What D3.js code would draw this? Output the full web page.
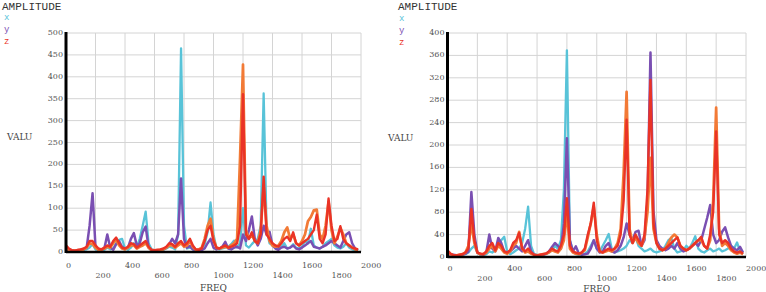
<!DOCTYPE html>
<html>
<head>
<meta charset="utf-8">
<script src="https://cdn.jsdelivr.net/npm/d3@7"></script>
<style>
  html, body { margin: 0; padding: 0; background: #fff; }
  svg { display: block; }
</style>
</head>
<body>
<svg id="chart" width="766" height="292"></svg>
<script>
// Frequency samples (Hz), step 20
const freq = d3.range(0, 2000, 20);

// Tick labels
const xTicks = [0, 200, 400, 600, 800, 1000, 1200, 1400, 1600, 1800, 2000];
const yTicksLeft = [0, 50, 100, 150, 200, 250, 300, 350, 400, 450, 500];
const yTicksRight = [0, 40, 80, 120, 160, 200, 240, 280, 320, 360, 400];

const legendNames = ["x", "y", "z"];

// Left chart series
const leftX = [2,4,3,2,3,4,5,6,10,18, 6,4,3,5,10,6,8,20,28,30, 8,5,10,20,12,30,60,92,20,6, 4,3,4,5,8,12,10,6,40,465, 60,8,10,6,5,4,6,18,45,113, 40,8,6,8,10,12,18,26,10,20, 100,15,10,18,25,30,60,362,50,20, 15,10,8,12,20,8,10,18,10,8, 12,25,20,53,15,10,8,12,20,25, 30,15,10,8,12,20,10,6,4,3];
const leftY = [3,6,4,3,3,5,6,10,60,134, 12,5,4,8,40,10,5,18,25,12, 8,10,30,43,15,20,45,58,10,4, 3,3,4,6,10,18,30,20,40,168, 30,10,14,6,4,5,4,8,20,30, 10,6,8,12,23,8,6,10,12,8, 40,25,50,81,30,15,30,60,40,46, 15,8,5,10,12,8,10,15,8,6, 10,15,20,25,12,10,8,12,15,20, 25,20,15,10,25,40,45,20,8,4];
const leftZ = [15,8,4,3,5,6,8,12,25,25, 15,8,6,10,15,12,25,33,20,10, 8,12,20,18,10,15,20,25,12,5, 4,5,6,8,12,20,18,12,20,25, 15,20,30,15,6,5,8,25,50,60, 25,10,8,12,15,10,12,15,20,60, 360,40,30,45,25,20,40,172,40,30, 20,15,12,20,30,35,25,45,20,15, 20,25,30,40,50,85,30,20,40,122, 60,25,30,59,30,20,15,10,8,6];
const leftW = [8,5,3,3,4,5,6,10,20,18, 10,5,5,8,12,10,20,28,15,8, 6,10,15,15,8,12,15,20,10,4, 3,4,5,6,10,15,15,10,15,20, 12,15,25,12,5,6,10,30,60,76, 30,10,8,10,12,10,15,20,30,215, 428,50,30,40,25,20,50,150,60,25, 15,12,15,25,45,56,30,40,20,15, 25,40,70,80,95,97,40,30,60,115, 50,20,35,55,40,20,15,10,6,5];

// Right chart series
const rightX = [3,5,3,2,3,4,5,8,15,20, 8,4,3,5,10,8,12,20,30,36, 10,5,8,12,15,25,50,90,20,5, 4,3,4,5,8,12,20,15,30,120, 369,30,10,5,4,5,6,10,20,30, 15,10,20,30,41,15,8,10,12,15, 20,30,25,35,20,15,10,12,15,10, 8,10,12,20,30,34,15,8,10,12, 20,15,25,37,15,10,8,12,15,10, 12,15,10,12,15,20,15,26,10,5];
const rightY = [3,5,4,3,3,4,6,10,116,40, 8,5,4,8,40,15,10,34,25,10, 8,10,15,20,15,10,20,30,10,4, 3,3,4,6,10,18,25,20,15,60, 212,30,10,19,6,4,5,6,15,30, 15,8,10,20,25,10,8,12,20,35, 60,40,30,45,47,20,30,100,365,82, 30,20,15,12,15,20,15,25,15,10, 12,15,20,25,20,30,50,70,93,40, 25,30,45,53,35,20,15,12,18,8];
const rightZ = [12,6,3,3,4,5,8,15,86,30, 8,6,5,10,20,25,12,25,20,10, 8,12,25,30,43,15,10,15,8,4, 3,4,5,6,10,15,12,10,20,40, 105,20,10,8,6,8,15,40,60,97, 30,10,8,12,15,12,15,20,40,100, 245,40,25,40,30,20,40,120,316,60, 25,15,12,15,20,25,30,35,20,15, 12,15,20,25,30,36,20,15,40,80, 224,40,25,30,25,15,10,8,10,6];
const rightW = [8,5,3,3,4,5,8,20,60,25, 8,5,5,8,15,20,10,20,15,8, 6,10,20,25,45,15,8,10,6,4, 3,4,5,6,8,12,10,8,15,30, 80,15,8,6,5,8,12,35,60,90, 40,10,8,10,12,10,15,25,50,150, 295,50,25,35,25,20,35,80,177,50, 25,15,12,15,25,35,40,35,20,15, 12,15,20,25,30,30,20,15,30,100, 267,50,20,25,20,12,8,6,8,5];

const colors = { x: "#58c3d8", y: "#7a4fb2", z: "#ea3326", w: "#f27a36" };

const svg = d3.select("#chart");

function drawChart(cfg) {
  const g = svg.append("g");
  const xs = d3.scaleLinear().domain([0, 2000]).range([cfg.x0, cfg.x1]);
  const ys = d3.scaleLinear().domain([0, cfg.yMax]).range([cfg.yB, cfg.yT]);

  // grid
  g.selectAll("line.vg").data(xTicks.slice(1)).enter().append("line")
    .attr("x1", d => xs(d)).attr("x2", d => xs(d))
    .attr("y1", cfg.yT).attr("y2", cfg.yB)
    .attr("stroke", "#d4d4d4").attr("stroke-width", 1);
  g.selectAll("line.hg").data(cfg.yTicks.slice(1)).enter().append("line")
    .attr("x1", cfg.x0).attr("x2", cfg.x1)
    .attr("y1", d => ys(d)).attr("y2", d => ys(d))
    .attr("stroke", "#d4d4d4").attr("stroke-width", 1);

  // series
  const line = d3.line().x((d, i) => xs(freq[i])).y(d => ys(d));
  const series = [
    { v: cfg.sx, c: colors.x, w: 2.3 },
    { v: cfg.sy, c: colors.y, w: 2.5 },
    { v: cfg.sw, c: colors.w, w: 2.7 },
    { v: cfg.sz, c: colors.z, w: 2.4 }
  ];
  series.forEach(s => {
    g.append("path").datum(s.v).attr("d", line)
      .attr("fill", "none").attr("stroke", s.c)
      .attr("stroke-width", s.w).attr("stroke-linejoin", "round");
  });

  // axes lines
  g.append("line").attr("x1", cfg.x0).attr("x2", cfg.x1)
    .attr("y1", cfg.yB).attr("y2", cfg.yB)
    .attr("stroke", "#000").attr("stroke-width", 2.5);
  g.append("line").attr("x1", cfg.x0).attr("x2", cfg.x0)
    .attr("y1", cfg.yT - 1).attr("y2", cfg.yB + 1)
    .attr("stroke", "#000").attr("stroke-width", 3);

  // y tick labels
  g.selectAll("text.yt").data(cfg.yTicks).enter().append("text")
    .attr("x", cfg.x0 - 3).attr("y", d => ys(d) + 2)
    .attr("text-anchor", "end")
    .attr("font-family", "DejaVu Serif").attr("font-size", 8)
    .attr("fill", "#555").text(d => d);

  // x tick labels (two staggered rows, left-aligned on tick)
  g.selectAll("text.xt").data(xTicks).enter().append("text")
    .attr("x", d => xs(d))
    .attr("y", (d, i) => cfg.xRow + (i % 2 ? 10 : 0))
    .attr("text-anchor", "start")
    .attr("font-family", "DejaVu Serif").attr("font-size", 8)
    .attr("fill", "#555").text(d => d);

  // axis titles
  g.append("text").attr("x", (cfg.x0 + cfg.x1) / 2).attr("y", cfg.freqY)
    .attr("text-anchor", "middle")
    .attr("font-family", "DejaVu Serif").attr("font-size", 9)
    .attr("fill", "#444").text("FREQ");
  g.append("text").attr("x", cfg.valuX).attr("y", cfg.valuY)
    .attr("font-family", "DejaVu Serif").attr("font-size", 9)
    .attr("fill", "#444").text("VALU");

  // title + legend
  g.append("text").attr("x", cfg.tx).attr("y", 10)
    .attr("font-family", "Liberation Mono").attr("font-size", 11)
    .attr("fill", "#333").text("AMPLITUDE");
  const lc = [colors.x, colors.y, colors.z];
  g.selectAll("text.lg").data(legendNames).enter().append("text")
    .attr("x", cfg.lx).attr("y", (d, i) => cfg.ly + i * 12)
    .attr("font-family", "Liberation Mono").attr("font-size", 9)
    .attr("fill", (d, i) => lc[i]).text(d => d);
}

drawChart({
  x0: 66, x1: 361, yT: 33, yB: 252, yMax: 500, yTicks: yTicksLeft,
  sx: leftX, sy: leftY, sz: leftZ, sw: leftW,
  xRow: 268, freqY: 291, valuX: 7, valuY: 140, tx: 2, lx: 4, ly: 20
});
drawChart({
  x0: 447.5, x1: 746, yT: 33, yB: 257, yMax: 400, yTicks: yTicksRight,
  sx: rightX, sy: rightY, sz: rightZ, sw: rightW,
  xRow: 271, freqY: 291.5, valuX: 388, valuY: 141, tx: 398, lx: 399, ly: 21
});
</script>
</body>
</html>
